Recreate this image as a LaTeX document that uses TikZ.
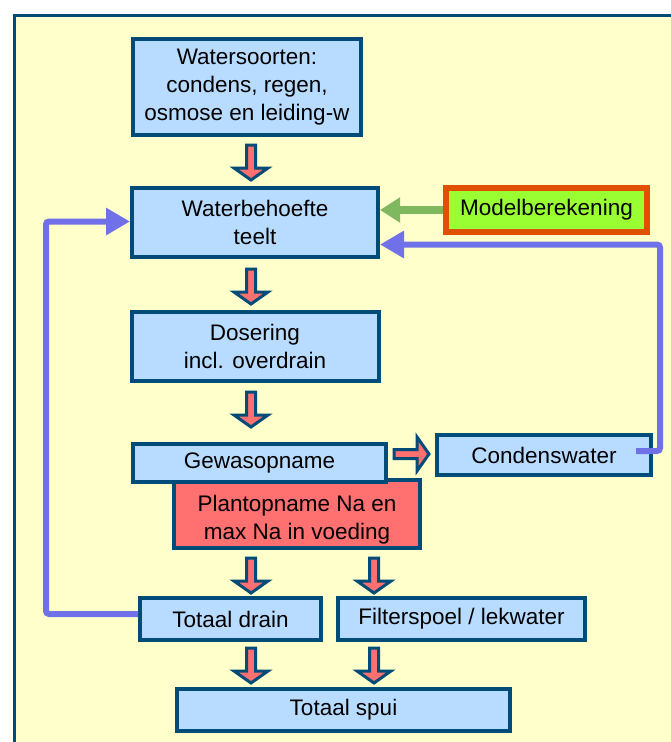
\documentclass[tikz,border=0pt]{standalone}
\usepackage{fontspec}
\setmainfont{Liberation Sans}
\usetikzlibrary{arrows.meta,calc}

\definecolor{rand}{RGB}{0,76,120}
\definecolor{lichtblauw}{RGB}{184,220,255}
\definecolor{geel}{RGB}{255,255,204}
\definecolor{rood}{RGB}{255,112,112}
\definecolor{paars}{RGB}{112,112,232}
\definecolor{groen}{RGB}{128,184,96}
\definecolor{limoen}{RGB}{153,255,51}
\definecolor{oranje}{RGB}{224,80,0}

\tikzset{
  watbox/.style={draw=rand, fill=lichtblauw, line width=4pt, align=center,
    inner sep=0pt, font=\fontsize{22.5}{28}\selectfont},
  plantbox/.style={watbox, fill=rood},
  modelbox/.style={watbox, draw=oranje, fill=limoen, line width=6pt},
  terug/.style={paars, line width=6pt, rounded corners=3pt,
    -{Triangle[length=24pt,width=26pt]}},
  blokpijl/.pic={
    \draw[draw=rand, fill=rood, line width=3pt, line join=miter]
      (-4.5,0) -- (-4.5,23) -- (-17,23) -- (0,35) -- (17,23) -- (4.5,23) -- (4.5,0) -- cycle;
  }
}

\begin{document}
\begin{tikzpicture}[x=1pt, y=-1pt]
  \useasboundingbox (0,0) rectangle (671,742);
  \begin{scope}
    \clip (0,0) rectangle (671,742);
    \fill[white] (0,0) rectangle (671,742);
    \draw[draw=rand, fill=geel, line width=3pt] (14.5,15.5) rectangle (700,770);
  \end{scope}

  % boxes
  \node[watbox, minimum width=228, minimum height=96] (soort) at (247,87)
    {Watersoorten:\\condens, regen,\\osmose en leiding-w};
  \node[watbox, minimum width=246, minimum height=69] (behoefte) at (255,222.5)
    {Waterbehoefte\\teelt};
  \node[watbox, minimum width=247, minimum height=69] (dosering) at (255,346)
    {Dosering\\incl. overdrain};
  \node[plantbox, minimum width=246, minimum height=68] (plant) at (297,514)
    {\rule{0pt}{28pt}Plantopname Na en\\max Na in voeding};
  \node[watbox, minimum width=253, minimum height=38] (gewas) at (259.5,463)
    {Gewasopname};
  \node[watbox, minimum width=214, minimum height=40] (conden) at (544,455)
    {Condenswater};
  \node[modelbox, minimum width=201, minimum height=44] (model) at (546.5,210)
    {Modelberekening};
  \node[watbox, minimum width=181, minimum height=42] (drain) at (230.5,619)
    {Totaal drain};
  \node[watbox, minimum width=247, minimum height=42] (filter) at (461.5,619)
    {Filterspoel / lekwater};
  \node[watbox, minimum width=333, minimum height=42] (spui) at (343.5,710)
    {Totaal spui};

  % block arrows
  \pic at (251,145) {blokpijl};
  \pic at (251,269) {blokpijl};
  \pic at (251,392) {blokpijl};
  \pic at (251,558) {blokpijl};
  \pic at (374,558) {blokpijl};
  \pic at (251,648) {blokpijl};
  \pic at (374,648) {blokpijl};
  \pic[rotate=90] at (394,454) {blokpijl};

  % feedback lines
  \coordinate (links) at (46,0);
  \coordinate (rechts) at (660,0);
  \draw[groen, line width=8pt, -{Triangle[length=20pt,width=24pt]}]
    (model.west) -- (model.west -| behoefte.east);
  \draw[terug] ([xshift=-17pt, yshift=4pt]conden.east) -- ($(rechts |- conden.east)+(0,-4)$)
    |- ($(behoefte.east)+(0,22)$);
  \draw[terug] ($(drain.west)+(0,-5)$) -- ($(links |- drain.west)+(0,-5)$)
    |- ($(behoefte.west)+(0,-1)$);
\end{tikzpicture}
\end{document}
